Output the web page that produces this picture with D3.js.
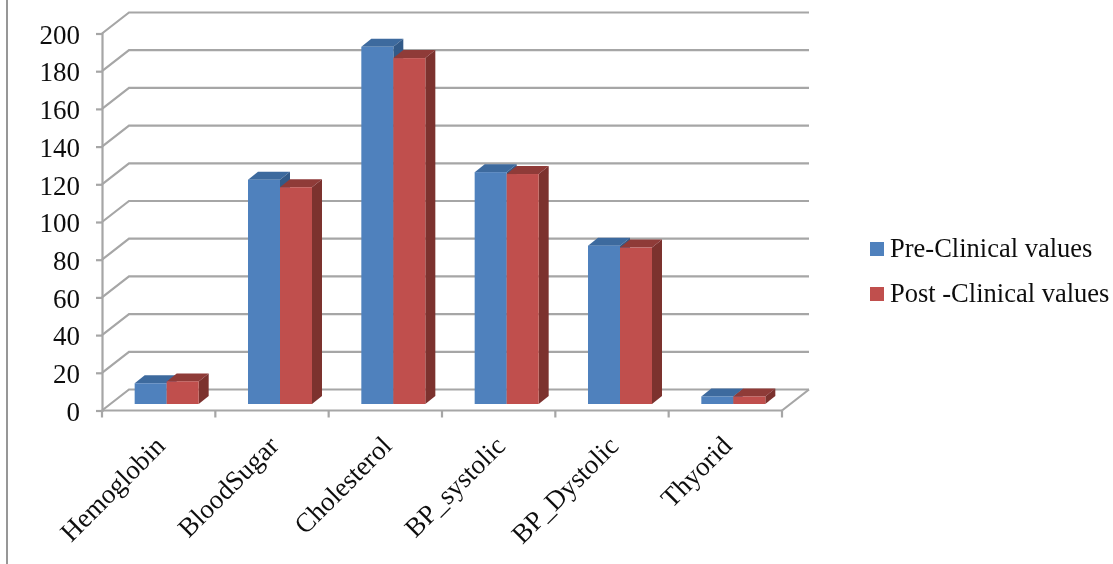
<!DOCTYPE html>
<html>
<head>
<meta charset="utf-8">
<script src="https://cdn.jsdelivr.net/npm/d3@7"></script>
<style>
  html, body { margin: 0; padding: 0; background: #fff; }
  text { font-family: "Liberation Serif", serif; fill: #111; }
</style>
</head>
<body>
<svg id="chart" width="1113" height="564"></svg>
<script>
// values
const categories = ["Hemoglobin", "BloodSugar", "Cholesterol", "BP_systolic", "BP_Dystolic", "Thyorid"];
const preValues = [11, 119, 189.5, 123, 84, 4];
const postValues = [12, 115, 183.5, 122, 83, 4];
const seriesNames = ["Pre-Clinical values", "Post -Clinical values"];
const yTicks = [0, 20, 40, 60, 80, 100, 120, 140, 160, 180, 200];

const frontColors = ["#4f81bd", "#c0504d"];
const topColors = ["#3e6a9e", "#8f3b39"];
const sideColors = ["#335a88", "#7c302e"];
const gridColor = "#a6a6a6";

const svg = d3.select("#chart");

// soft edges, the picture is a slightly blurred screenshot
svg.append("defs").append("filter").attr("id", "soft")
  .attr("filterUnits", "userSpaceOnUse")
  .attr("x", 0).attr("y", 0).attr("width", 1113).attr("height", 564)
  .append("feGaussianBlur").attr("stdDeviation", 0.6);

const root = svg.append("g").attr("filter", "url(#soft)");

// front plane of the 3d box
const x = d3.scaleBand().domain(categories).range([102, 782]);
const y = d3.scaleLinear().domain([0, 200]).range([410.5, 33.5]);

// depth of the box, and how deep the bars sit in it
const depthX = 27, depthY = -21;
const barOffX = 8, barOffY = -6.5;
const barW = 32, barDX = 10, barDY = -8;

// outer frame line on the left of the page
root.append("line")
  .attr("x1", 7).attr("x2", 7).attr("y1", 0).attr("y2", 564)
  .attr("stroke", "#8c8c8c").attr("stroke-width", 1.8);

// back wall gridlines and the diagonals on the side wall
const grid = root.append("g").attr("stroke", gridColor).attr("stroke-width", 2.2).attr("fill", "none");
yTicks.forEach((t) => {
  grid.append("path")
    .attr("d", d3.line()([
      [102, y(t)],
      [102 + depthX, y(t) + depthY],
      [782 + depthX, y(t) + depthY],
    ]));
});
// floor edge on the right side
grid.append("line")
  .attr("x1", 782).attr("y1", y(0))
  .attr("x2", 782 + depthX).attr("y2", y(0) + depthY);

// axes
const yAxis = root.append("g").attr("transform", "translate(102,0)")
  .call(d3.axisLeft(y).tickValues(yTicks).tickSize(6).tickPadding(16));
yAxis.selectAll("path, line").attr("stroke", gridColor).attr("stroke-width", 2.2);
yAxis.selectAll("text").attr("font-size", 27).attr("dy", "0.36em")
  .attr("font-family", "Liberation Serif").attr("fill", "#111");

const xAxisLine = root.append("g").attr("stroke", gridColor).attr("stroke-width", 2.2);
xAxisLine.append("line").attr("x1", 102).attr("x2", 782).attr("y1", y(0)).attr("y2", y(0));
categories.forEach((c) => {
  xAxisLine.append("line").attr("x1", x(c)).attr("x2", x(c)).attr("y1", y(0)).attr("y2", y(0) + 7);
});
xAxisLine.append("line").attr("x1", 782).attr("x2", 782).attr("y1", y(0)).attr("y2", y(0) + 7);

// bars, blue first so the red one sits over its side face
const bars = root.append("g");
categories.forEach((c, i) => {
  [preValues[i], postValues[i]].forEach((v, s) => {
    const x0 = x(c) + x.bandwidth() / 2 + barOffX + (s - 1) * barW;
    const x1 = x0 + barW;
    const yTop = y(v) + barOffY;
    const yBase = y(0) + barOffY;
    const g = bars.append("g");
    g.append("path").attr("fill", topColors[s])
      .attr("d", d3.line()([[x0, yTop], [x0 + barDX, yTop + barDY], [x1 + barDX, yTop + barDY], [x1, yTop]]) + "Z");
    g.append("path").attr("fill", sideColors[s])
      .attr("d", d3.line()([[x1, yTop], [x1 + barDX, yTop + barDY], [x1 + barDX, yBase + barDY], [x1, yBase]]) + "Z");
    g.append("rect").attr("fill", frontColors[s])
      .attr("x", x0).attr("y", yTop).attr("width", barW).attr("height", yBase - yTop);
  });
});

// category labels, rotated, ending under the middle of each band
categories.forEach((c) => {
  const px = x(c) + x.bandwidth() / 2 + 8;
  root.append("text")
    .attr("transform", `translate(${px},${y(0) + 37}) rotate(-45)`)
    .attr("text-anchor", "end")
    .attr("font-size", 27)
    .text(c);
});

// legend
const legendY = [249, 294];
seriesNames.forEach((name, i) => {
  root.append("rect")
    .attr("x", 870).attr("y", legendY[i] - 7).attr("width", 14).attr("height", 14)
    .attr("fill", frontColors[i]);
  root.append("text")
    .attr("x", 890).attr("y", legendY[i] + 8)
    .attr("font-size", 26.5)
    .text(name);
});
</script>
</body>
</html>
